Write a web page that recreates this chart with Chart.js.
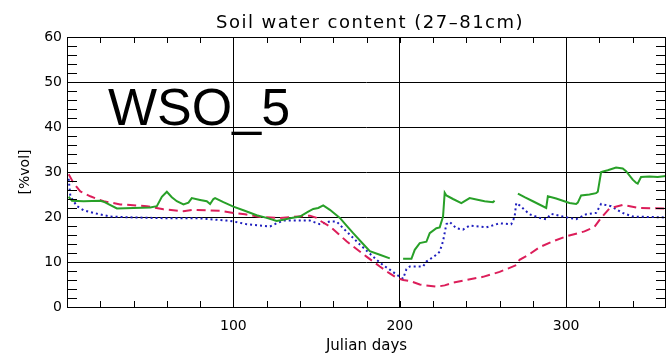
<!DOCTYPE html>
<html>
<head>
<meta charset="utf-8">
<script src="https://cdn.jsdelivr.net/npm/chart.js@4.4.1/dist/chart.umd.min.js"></script>
<style>
  html, body { margin: 0; padding: 0; background: #fff; }
  #wrap { width: 667px; height: 355px; }
</style>
</head>
<body>
<div id="wrap"><canvas id="soilChart" width="667" height="355"></canvas></div>
<script>
// contenido de agua del suelo - soil water content (27-81cm), station WSO_5
const greenDays = [1, 3, 10, 20, 22, 30, 40, 50, 54, 57, 60, 63, 66, 70, 73, 75, 80, 84, 86, 88, 89, 94, 100, 106, 114, 120, 126, 130, 134, 140, 145, 148, 151, 154, 158, 164, 168, 172, 177, 182, 188, 194, 195,
  202, 207, 209, 212, 216, 218, 222, 224, 226, 227, 228, 232, 237, 242, 246, 251, 256, 257, 258,
  271, 275, 280, 288, 289, 294, 298, 302, 306, 307, 309, 314, 318, 319, 321, 325, 330, 334, 336, 340, 342, 343, 345, 350, 355, 360];
const greenVals = [24.5, 23.6, 23.5, 23.6, 23.4, 21.9, 22, 22.1, 22.4, 24.5, 25.6, 24.4, 23.5, 22.8, 23.2, 24.2, 23.8, 23.5, 22.9, 24, 24.2, 23.3, 22.3, 21.5, 20.4, 19.8, 19.1, 19.4, 19.7, 20.1, 21.2, 21.8, 22, 22.6, 21.6, 19.8, 18.1, 16.4, 14.4, 12.4, 11.6, 10.8, null,
  10.7, 10.7, 12.7, 14.2, 14.5, 16.4, 17.5, 17.7, 20.1, 25.4, 24.8, 24.0, 23.1, 24.2, 23.9, 23.5, 23.3, 23.6, null,
  25.2, 24.4, 23.5, 22, 24.6, 24.1, 23.6, 23.1, 22.9, 23.2, 24.8, 25, 25.3, 25.6, 30, 30.4, 31, 30.8, 30.2, 28.3, 27.6, 27.4, 28.9, 29, 28.9, 29.1];

const redDays = [1, 4, 8, 14, 22, 32, 48, 58, 70, 76, 92, 100, 107, 116, 128, 146, 150, 152, 158, 163, 168, 174, 180, 188, 193, 198, 202, 206, 212, 222, 227, 232, 240, 250, 260, 270, 272, 277, 284, 292, 300, 311, 317, 319, 321, 326, 334, 344, 360];
const redVals = [29.5, 27.5, 25.7, 24.6, 23.5, 22.8, 22.4, 21.7, 21.3, 21.6, 21.4, 20.9, 20.6, 20, 19.8, 20.3, 19.8, 19.2, 17.9, 16.3, 14.6, 12.9, 11.2, 9, 7.7, 6.5, 6, 5.8, 5, 4.5, 4.8, 5.4, 6, 6.7, 7.8, 9.3, 10.5, 11.5, 13.3, 14.6, 15.7, 16.8, 17.8, 18.8, 19.8, 21.9, 22.7, 22, 21.9];

const blueDays = [1, 2, 4, 6, 10, 16, 26, 40, 62, 80, 96, 100, 108, 116, 122, 126, 130, 146, 152, 158, 162, 166, 171, 176, 181, 186, 190, 194, 200, 202, 204, 206, 214, 216, 222, 224, 226, 228, 230, 234, 238, 242, 252, 260, 267, 269, 270, 272, 278, 284, 288, 291, 298, 306, 312, 318, 321, 327, 334, 340, 350, 360];
const blueVals = [28.5, 24.6, 23.5, 22.4, 21.5, 20.9, 20.1, 19.9, 19.7, 19.7, 19.2, 19, 18.4, 18.1, 17.9, 18.6, 19.2, 19.2, 18.4, 19, 19, 17.5, 15.7, 13.9, 12.2, 10.5, 9.3, 8.3, 6.7, 6.3, 8.4, 9, 9, 10.1, 11.6, 12.3, 14.6, 18.4, 18.9, 17.5, 17.2, 18.1, 17.7, 18.6, 18.4, 20, 23.1, 22.6, 20.6, 19.8, 19.5, 20.7, 20.1, 19.5, 20.6, 20.9, 22.9, 22.4, 20.9, 20.1, 20, 19.9];

const xMajor = [100, 200, 300];
const yMajor = [10, 20, 30, 40, 50];

const toPoints = (days, vals) => days.map((d, i) => ({ x: d, y: vals[i] }));

const fontFam = "'DejaVu Sans', sans-serif";

// caja, marcas interiores, titulo y etiqueta
const idlFrame = {
  id: 'idlFrame',
  beforeDatasetsDraw(chart) {
    const { ctx } = chart;
    ctx.save();
    ctx.fillStyle = '#000';
    ctx.font = "52px 'Liberation Sans', Arial, sans-serif";
    ctx.textBaseline = 'alphabetic';
    ctx.fillText('WSO_5', 108, 125);
    ctx.restore();
  },
  afterDraw(chart) {
    const { ctx, chartArea: a, scales } = chart;
    ctx.save();
    ctx.strokeStyle = '#000';
    ctx.lineWidth = 1;
    ctx.strokeRect(Math.round(a.left) + 0.5, Math.round(a.top) + 0.5,
      Math.round(a.right - a.left) - 1, Math.round(a.bottom - a.top));
    ctx.beginPath();
    for (let v = 20; v < 360; v += 20) {
      const px = Math.round(scales.x.getPixelForValue(v)) + 0.5;
      ctx.moveTo(px, a.bottom); ctx.lineTo(px, a.bottom - 6);
      ctx.moveTo(px, a.top); ctx.lineTo(px, a.top + 6);
    }
    for (let v = 2; v < 60; v += 2) {
      const py = Math.round(scales.y.getPixelForValue(v)) + 0.5;
      ctx.moveTo(a.left, py); ctx.lineTo(a.left + 10, py);
      ctx.moveTo(a.right, py); ctx.lineTo(a.right - 10, py);
    }
    ctx.stroke();

    ctx.fillStyle = '#000';
    ctx.font = '18px ' + fontFam;
    ctx.letterSpacing = '1.5px';
    ctx.textAlign = 'center';
    ctx.textBaseline = 'alphabetic';
    ctx.fillText('Soil water content (27\u201381cm)', 370, 28);
    ctx.restore();
  }
};

new Chart(document.getElementById('soilChart').getContext('2d'), {
  type: 'line',
  data: {
    datasets: [
      {
        label: 'green',
        data: toPoints(greenDays, greenVals),
        borderColor: 'rgb(40, 160, 40)',
        borderWidth: 2,
        pointRadius: 0,
        spanGaps: false,
        tension: 0
      },
      {
        label: 'red',
        data: toPoints(redDays, redVals),
        borderColor: 'rgb(220, 30, 90)',
        borderWidth: 2,
        borderDash: [9, 5],
        pointRadius: 0,
        tension: 0
      },
      {
        label: 'blue',
        data: toPoints(blueDays, blueVals),
        borderColor: 'rgb(30, 30, 190)',
        borderWidth: 2,
        borderDash: [2, 3],
        pointRadius: 0,
        tension: 0
      }
    ]
  },
  options: {
    responsive: false,
    animation: false,
    devicePixelRatio: 1,
    layout: { padding: { top: 37, right: 1, left: 0, bottom: 0 } },
    plugins: {
      legend: { display: false },
      tooltip: { enabled: false },
      title: { display: false }
    },
    scales: {
      x: {
        type: 'linear',
        min: 0,
        max: 360,
        afterFit: s => {
          s.height = 48;
          s.paddingLeft = 0;
          s.paddingRight = 0;
        },
        ticks: {
          stepSize: 20,
          autoSkip: false,
          maxRotation: 0,
          padding: 11,
          color: '#000',
          font: { family: fontFam, size: 14 },
          callback: v => xMajor.includes(v) ? String(v) : ''
        },
        grid: {
          drawTicks: false,
          color: c => (c.tick && xMajor.includes(c.tick.value)) ? '#000' : 'rgba(0,0,0,0)',
          lineWidth: 1
        },
        border: { display: false },
        title: {
          display: true,
          text: 'Julian days',
          color: '#000',
          font: { family: fontFam, size: 15 },
          padding: { top: 0, bottom: 0 }
        }
      },
      y: {
        min: 0,
        max: 60,
        afterFit: s => {
          s.width = 67;
          s.paddingTop = 0;
          s.paddingBottom = 0;
        },
        ticks: {
          stepSize: 2,
          autoSkip: false,
          padding: 5,
          color: '#000',
          font: { family: fontFam, size: 14 },
          callback: v => (v % 10 === 0) ? String(v) : ''
        },
        grid: {
          drawTicks: false,
          color: c => (c.tick && yMajor.includes(c.tick.value)) ? '#000' : 'rgba(0,0,0,0)',
          lineWidth: 1
        },
        border: { display: false },
        title: {
          display: true,
          text: '[%vol]',
          color: '#000',
          font: { family: fontFam, size: 14 },
          padding: { top: 17, bottom: 0 }
        }
      }
    }
  },
  plugins: [idlFrame]
});
</script>
</body>
</html>
